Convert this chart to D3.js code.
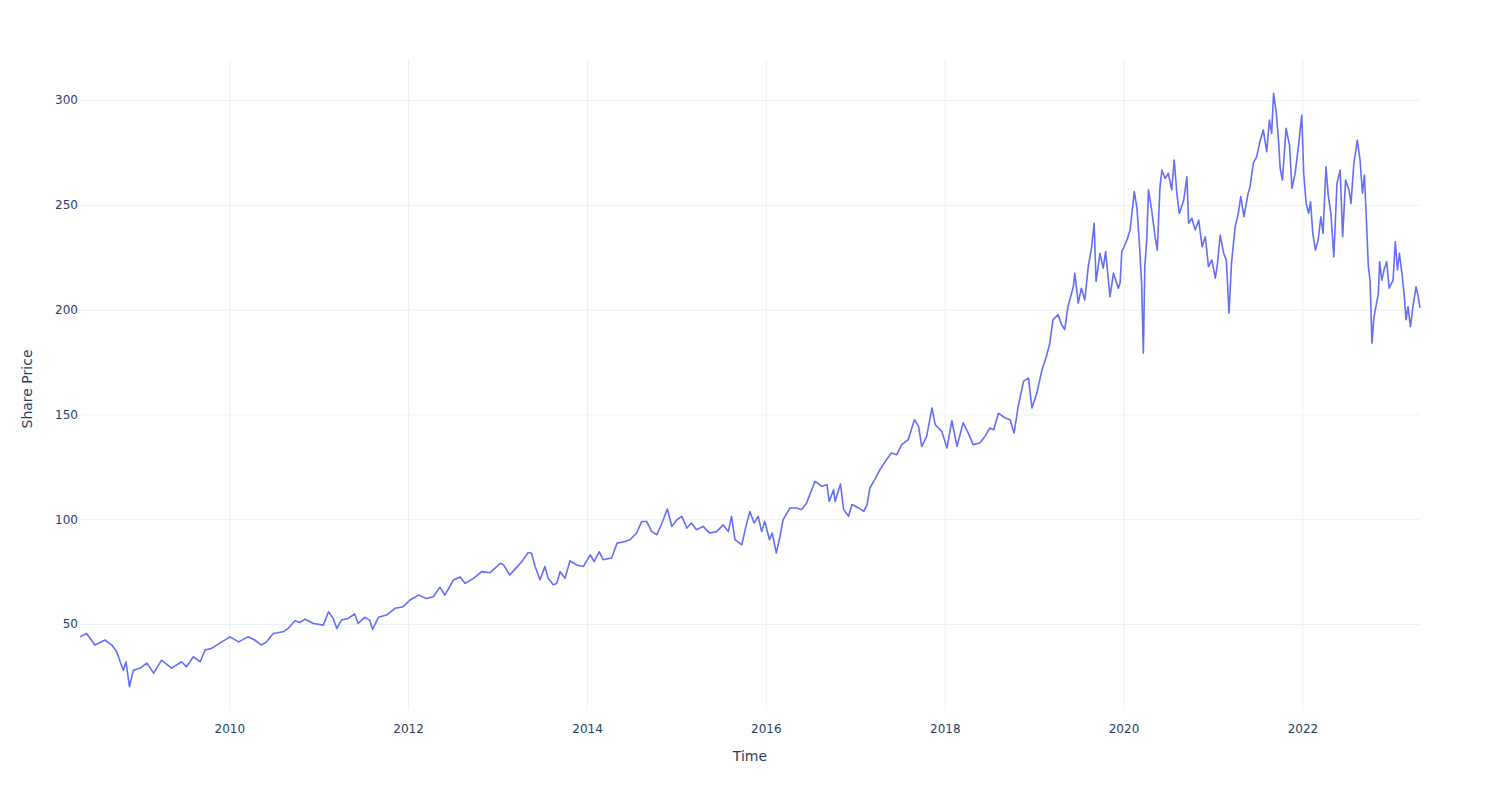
<!DOCTYPE html>
<html>
<head>
<meta charset="utf-8">
<script src="https://cdn.jsdelivr.net/npm/d3@7"></script>
<style>
  body { margin: 0; background: #fff; }
  text { font-family: "DejaVu Sans", verdana, arial, sans-serif; }
</style>
</head>
<body>
<div id="chart"></div>
<script>
// share price
const dates = [
  "2008-05-01","2008-05-28","2008-07-01","2008-08-11","2008-09-08","2008-09-28","2008-10-12","2008-10-25","2008-11-05","2008-11-19",
  "2008-12-05","2009-01-02","2009-01-29","2009-02-26","2009-03-30","2009-05-10","2009-06-20","2009-07-10","2009-08-07","2009-09-04",
  "2009-09-24","2009-10-21","2009-12-01","2010-01-04","2010-02-08","2010-03-18","2010-04-15","2010-05-12","2010-06-02","2010-06-29",
  "2010-08-09","2010-08-29","2010-09-26","2010-10-16","2010-11-07","2010-12-10","2011-01-20","2011-02-10","2011-03-01","2011-03-16",
  "2011-04-04","2011-05-01","2011-05-28","2011-06-11","2011-07-08","2011-07-28","2011-08-09","2011-09-02","2011-10-05","2011-11-09",
  "2011-12-12","2012-01-09","2012-02-13","2012-03-16","2012-04-13","2012-05-10","2012-05-30","2012-07-04","2012-08-01","2012-08-21",
  "2012-09-24","2012-10-28","2012-12-01","2013-01-12","2013-01-25","2013-02-19","2013-03-12","2013-04-09","2013-05-06","2013-05-19",
  "2013-06-03","2013-06-23","2013-07-13","2013-07-26","2013-08-16","2013-08-30","2013-09-13","2013-10-03","2013-10-23","2013-11-20",
  "2013-12-17","2014-01-14","2014-01-30","2014-02-20","2014-03-07","2014-04-11","2014-05-04","2014-06-05","2014-06-25","2014-07-22",
  "2014-08-12","2014-09-02","2014-09-22","2014-10-13","2014-11-03","2014-11-25","2014-12-13","2015-01-03","2015-01-23","2015-02-13",
  "2015-03-03","2015-03-24","2015-04-20","2015-05-17","2015-06-14","2015-07-11","2015-08-01","2015-08-14","2015-08-28","2015-09-25",
  "2015-10-12","2015-10-28","2015-11-14","2015-12-01","2015-12-15","2015-12-28","2016-01-16","2016-01-27","2016-02-13","2016-02-28",
  "2016-03-12","2016-04-09","2016-05-06","2016-05-26","2016-06-16","2016-07-20","2016-08-17","2016-09-07","2016-09-16","2016-10-04",
  "2016-10-10","2016-11-01","2016-11-14","2016-12-04","2016-12-18","2017-01-14","2017-02-04","2017-02-18","2017-03-01","2017-03-21",
  "2017-04-11","2017-05-08","2017-05-28","2017-06-19","2017-07-09","2017-08-05","2017-08-30","2017-09-16","2017-09-29","2017-10-19",
  "2017-11-10","2017-11-23","2017-12-20","2018-01-10","2018-01-30","2018-02-20","2018-03-17","2018-04-07","2018-04-27","2018-05-24",
  "2018-06-14","2018-07-04","2018-07-20","2018-08-08","2018-09-05","2018-09-25","2018-10-11","2018-10-28","2018-11-19","2018-12-09",
  "2018-12-23","2019-01-12","2019-02-02","2019-02-20","2019-03-06","2019-03-19","2019-04-09","2019-04-23","2019-05-06","2019-05-19",
  "2019-06-10","2019-06-16","2019-06-30","2019-07-13","2019-07-27","2019-08-10","2019-08-24","2019-09-03","2019-09-11","2019-09-27",
  "2019-10-10","2019-10-20","2019-11-07","2019-11-21","2019-12-11","2019-12-18","2019-12-25","2020-01-01","2020-01-15","2020-01-28",
  "2020-02-14","2020-02-25","2020-03-05","2020-03-15","2020-03-22","2020-03-28","2020-04-05","2020-04-12","2020-04-25","2020-05-09",
  "2020-05-18","2020-05-29","2020-06-06","2020-06-19","2020-07-02","2020-07-16","2020-07-26","2020-08-06","2020-08-16","2020-09-03",
  "2020-09-16","2020-09-23","2020-10-06","2020-10-20","2020-11-03","2020-11-17","2020-11-30","2020-12-13","2020-12-27","2021-01-10",
  "2021-01-19","2021-01-30","2021-02-13","2021-02-24","2021-03-07","2021-03-17","2021-04-01","2021-04-14","2021-04-24","2021-05-07",
  "2021-05-24","2021-06-01","2021-06-14","2021-06-28","2021-07-11","2021-07-25","2021-08-08","2021-08-19","2021-08-28","2021-09-05",
  "2021-09-16","2021-09-25","2021-10-02","2021-10-11","2021-10-26","2021-11-09","2021-11-19","2021-12-02","2021-12-16","2021-12-29",
  "2022-01-06","2022-01-16","2022-01-26","2022-02-03","2022-02-12","2022-02-23","2022-03-06","2022-03-17","2022-03-26","2022-04-07",
  "2022-04-16","2022-04-27","2022-05-09","2022-05-22","2022-06-04","2022-06-14","2022-06-26","2022-07-10","2022-07-18","2022-07-30",
  "2022-08-13","2022-08-24","2022-09-03","2022-09-11","2022-09-18","2022-09-27","2022-10-04","2022-10-12","2022-10-20","2022-10-28",
  "2022-11-07","2022-11-12","2022-11-21","2022-12-02","2022-12-11","2022-12-21","2023-01-06","2023-01-15","2023-01-24","2023-02-01",
  "2023-02-12","2023-02-21","2023-02-28","2023-03-08","2023-03-18","2023-03-28","2023-04-10","2023-04-19","2023-04-26"
];

const prices = [
  43.9,45.5,40.0,42.4,40.0,36.8,32.0,28.0,32.0,20.1,
  28.0,29.0,31.4,26.6,32.8,29.0,32.0,29.6,34.4,32.0,
  37.6,38.4,41.5,43.9,41.5,43.9,42.4,40.0,41.5,45.5,
  46.3,47.9,51.6,50.8,52.3,50.3,49.5,55.9,52.7,47.9,
  51.9,52.7,54.8,50.3,53.2,51.9,47.5,53.2,54.3,57.5,
  58.3,61.5,63.8,62.2,63.0,67.6,63.8,71.0,72.5,69.4,
  71.8,75.0,74.5,79.0,78.2,73.4,76.1,79.7,84.1,83.8,
  77.5,71.1,77.5,71.8,68.7,69.4,75.0,71.8,80.2,78.2,
  77.5,83.0,79.8,84.5,80.7,81.5,88.6,89.4,90.2,93.3,
  98.9,98.9,94.1,92.6,98.2,104.9,96.6,99.8,101.4,95.8,
  98.2,95.0,96.6,93.4,94.1,97.3,94.1,101.4,90.3,87.8,
  96.6,103.7,98.2,101.4,94.1,98.9,90.2,93.4,83.9,91.8,
  99.8,105.4,105.4,104.6,107.8,118.1,115.7,116.5,108.5,114.1,
  108.5,116.8,104.6,101.4,107.0,105.4,103.8,107.0,114.9,118.9,
  123.7,128.4,131.6,130.8,135.6,138.0,147.5,144.3,134.8,139.5,
  153.1,145.1,141.9,134.0,147.0,134.8,146.0,141.1,135.6,136.4,
  139.5,143.5,142.7,150.6,148.3,147.5,141.1,153.9,165.9,167.3,
  153.1,160.2,171.3,177.6,184.0,195.2,197.6,192.8,190.5,201.4,
  210.9,217.4,203.1,210.2,204.6,220.5,230.0,241.2,213.4,226.9,
  219.8,227.7,206.2,217.4,210.2,212.7,227.7,229.4,233.2,238.0,
  256.3,248.4,233.2,212.7,179.2,220.5,233.2,257.1,247.6,234.8,
  228.4,258.7,266.6,262.6,265.0,257.1,271.4,255.5,245.9,252.3,
  263.4,241.2,243.6,238.0,242.7,230.0,234.8,220.5,223.7,215.0,
  222.1,235.6,226.9,223.7,198.3,222.1,239.6,245.9,253.9,244.4,
  255.5,258.7,269.8,273.0,280.1,285.7,275.4,290.5,284.1,303.2,
  293.7,280.9,267.4,261.8,286.5,278.5,257.9,265.0,278.5,292.8,
  265.0,250.7,245.9,251.5,236.4,228.4,233.2,244.3,236.4,268.2,
  254.7,245.9,225.2,260.3,266.6,234.8,261.8,257.1,250.7,269.8,
  280.9,271.4,255.5,264.2,245.9,220.5,214.1,184.0,196.6,201.4,
  207.8,222.9,214.1,219.8,222.9,210.2,214.1,232.4,218.9,226.9,
  216.5,206.1,195.2,201.4,191.9,201.4,210.9,206.1,200.8
];

const yTicks = [50, 100, 150, 200, 250, 300];
const xTickYears = [2010, 2012, 2014, 2016, 2018, 2020, 2022];

const width = 1500, height = 800;
const margin = { top: 60, right: 80, bottom: 90, left: 80 };
const w = width - margin.left - margin.right;
const h = height - margin.top - margin.bottom;
const font = "\"DejaVu Sans\", verdana, arial, sans-serif";

const parse = d3.timeParse("%Y-%m-%d");
const data = dates.map((d, i) => ({ date: parse(d), price: prices[i] }));

const svg = d3.select("#chart").append("svg")
  .attr("width", width)
  .attr("height", height);

const x = d3.scaleTime()
  .domain(d3.extent(data, d => d.date))
  .range([0, w]);

// plotly-like autorange with a bit of padding
const y = d3.scaleLinear()
  .domain([9, 319.1])
  .range([h, 0]);

const g = svg.append("g")
  .attr("transform", `translate(${margin.left},${margin.top})`);

// x grid + labels
const xAxis = g.append("g")
  .attr("transform", `translate(0,${h})`)
  .call(d3.axisBottom(x)
    .tickValues(xTickYears.map(yr => new Date(yr, 0, 1)))
    .tickFormat(d3.timeFormat("%Y"))
    .tickSizeInner(-h)
    .tickSizeOuter(0)
    .tickPadding(14));

// y grid + labels
const yAxis = g.append("g")
  .call(d3.axisLeft(y)
    .tickValues(yTicks)
    .tickSizeInner(-w)
    .tickSizeOuter(0)
    .tickPadding(2));

[xAxis, yAxis].forEach(ax => {
  ax.select(".domain").remove();
  ax.selectAll(".tick line").attr("stroke", "#EBF0F8").attr("stroke-width", 1);
  ax.selectAll(".tick text")
    .attr("fill", "#2a3f5f")
    .style("font-size", "12px")
    .style("font-family", font);
});

const line = d3.line()
  .x(d => x(d.date))
  .y(d => y(d.price));

g.append("path")
  .datum(data)
  .attr("fill", "none")
  .attr("stroke", "#636efa")
  .attr("stroke-width", 1.6)
  .attr("stroke-linejoin", "round")
  .attr("d", line);

// axis titles
svg.append("text")
  .attr("x", margin.left + w / 2)
  .attr("y", 761)
  .attr("text-anchor", "middle")
  .attr("fill", "#2a3f5f")
  .style("font-size", "14px")
  .style("font-family", font)
  .text("Time");

svg.append("text")
  .attr("transform", `translate(32,${margin.top + h / 2 + 4}) rotate(-90)`)
  .attr("text-anchor", "middle")
  .attr("fill", "#2a3f5f")
  .style("font-size", "14px")
  .style("font-family", font)
  .text("Share Price");
</script>
</body>
</html>
